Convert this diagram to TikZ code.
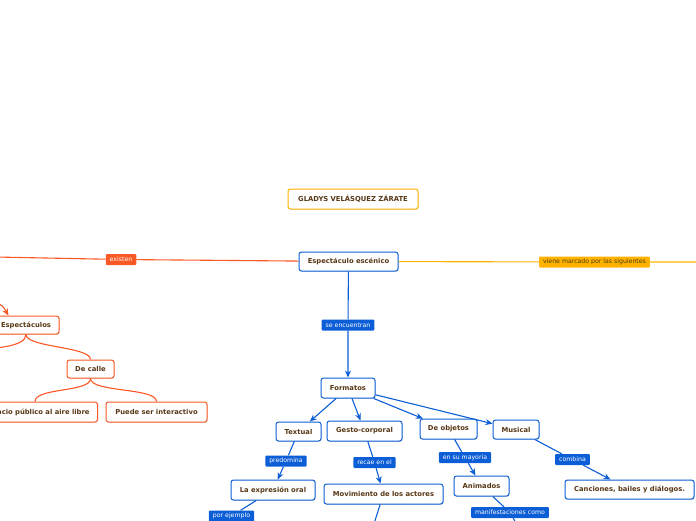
\documentclass[tikz,border=0pt]{standalone}
\usepackage{fontspec}
\setmainfont{DejaVu Sans}
\usetikzlibrary{arrows.meta,shadows}
\definecolor{cblue}{RGB}{12,94,214}
\definecolor{corange}{RGB}{250,88,36}
\definecolor{cyellow}{RGB}{255,178,0}
\definecolor{ctext}{RGB}{88,56,22}
\definecolor{cytext}{RGB}{80,60,10}
\tikzset{
  box/.style={draw, fill=white, rounded corners=2.5pt, line width=1pt,
    font=\fontsize{6.8}{8}\selectfont\bfseries, text=ctext, inner sep=0pt,
    minimum height=19pt,
    drop shadow={shadow xshift=0.7pt, shadow yshift=-0.9pt, opacity=0.25, fill=gray}},
  bbox/.style={box, draw=cblue},
  obox/.style={box, draw=corange},
  ybox/.style={box, draw=cyellow},
  lblb/.style={fill=cblue, text=white, rounded corners=1pt,
    font=\fontsize{6.2}{7}\selectfont, inner xsep=4pt, inner ysep=0pt, minimum height=11pt},
  lblo/.style={lblb, fill=corange},
  lbly/.style={lblb, fill=cyellow, text=cytext},
  bline/.style={draw=cblue, line width=1.1pt},
  oline/.style={draw=corange, line width=1.1pt},
  yline/.style={draw=cyellow, line width=1.1pt},
  tip/.style={-{Stealth[length=7pt,width=6pt]}}
}
\begin{document}
\begin{tikzpicture}[x=1pt,y=-1pt]
\useasboundingbox (0,0) rectangle (696,520);
% top nodes
\node[ybox, minimum width=130pt, minimum height=20pt] (gladys) at (353,199) {GLADYS VELÁSQUEZ ZÁRATE};
\node[bbox, minimum width=99pt] (esc) at (348.5,261.5) {Espectáculo escénico};
% left orange branch
\node[obox, minimum width=66pt, minimum height=18pt] (esp) at (26,325) {Espectáculos};
\node[obox, minimum width=47pt, minimum height=18pt] (calle) at (90.5,369) {De calle};
\node[obox, anchor=east, inner xsep=8pt, minimum height=20pt] (aire) at (98,412) {Espacio público al aire libre};
\node[obox, minimum width=101pt, minimum height=20pt] (inter) at (156.5,412) {Puede ser interactivo};
% blue nodes
\node[bbox, minimum width=54pt, minimum height=20pt] (form) at (348,388) {Formatos};
\node[bbox, minimum width=45pt] (textual) at (298.5,431.5) {Textual};
\node[bbox, minimum width=75pt, minimum height=20pt] (gesto) at (364.5,431) {Gesto-corporal};
\node[bbox, minimum width=57pt, minimum height=20pt] (objetos) at (448.5,429) {De objetos};
\node[bbox, minimum width=46pt] (musical) at (516,429.5) {Musical};
\node[bbox, minimum width=84pt, minimum height=20pt] (expr) at (273,490) {La expresión oral};
\node[bbox, minimum width=119pt, minimum height=20pt] (mov) at (383.5,494) {Movimiento de los actores};
\node[bbox, minimum width=55pt, minimum height=20pt] (anim) at (481.5,486) {Animados};
\node[bbox, minimum width=129pt] (canc) at (629.5,489.5) {Canciones, bailes y diálogos.};
% labels
\node[lblo] (existen) at (121,259.5) {existen};
\node[lbly] (viene) at (594.5,262) {viene marcado por las siguientes};
\node[lblb] (encuentran) at (348,325) {se encuentran};
\node[lblb] (predomina) at (286,461) {predomina};
\node[lblb] (recae) at (374.5,462.5) {recae en el};
\node[lblb] (mayoria) at (465,457.5) {en su mayoria};
\node[lblb] (combina) at (572.5,459.5) {combina};
\node[lblb] (ejemplo) at (231.5,516) {por ejemplo};
\node[lblb] (manif) at (510,512.5) {manifestaciones como};
% free ends
\coordinate (offL) at (-5,257);
\coordinate (offR) at (700,262);
\coordinate (offA) at (-6,301);
\coordinate (offE) at (-30,349);
\coordinate (offM) at (372,530);
\coordinate (offN) at (520,530);
\coordinate (offP) at (214,530);
% connectors
\draw[oline] (esc) -- (existen) -- (offL);
\draw[yline] (esc) -- (viene) -- (offR);
\draw[oline, tip] (offA) .. controls (3,306) .. ([xshift=16pt]esp.north west);
\draw[oline] (esp.south) .. controls +(0,13) and +(0,-13) .. (calle.north);
\draw[oline] (esp.south) .. controls +(0,13) and +(20,0) .. (offE);
\draw[oline] (calle.south) .. controls +(0,14) and +(0,-14) .. (aire.north -| 35,0);
\draw[oline] (calle.south) .. controls +(0,14) and +(0,-14) .. (inter.north);
\draw[bline, tip] (esc) -- (encuentran) -- (form);
\draw[bline, tip] (form) -- (textual);
\draw[bline, tip] (form) -- (gesto);
\draw[bline, tip] (form) -- (objetos);
\draw[bline, tip] (form) -- (musical);
\draw[bline, tip] (textual) -- (predomina) -- (expr);
\draw[bline, tip] (gesto) -- (recae) -- (mov);
\draw[bline, tip] (objetos) -- (mayoria) -- (anim);
\draw[bline, tip] (musical) -- (combina) -- (canc);
\draw[bline] (expr) -- (ejemplo) -- (offP);
\draw[bline] (mov) -- (offM);
\draw[bline] (anim) -- (manif) -- (offN);
\end{tikzpicture}
\end{document}
